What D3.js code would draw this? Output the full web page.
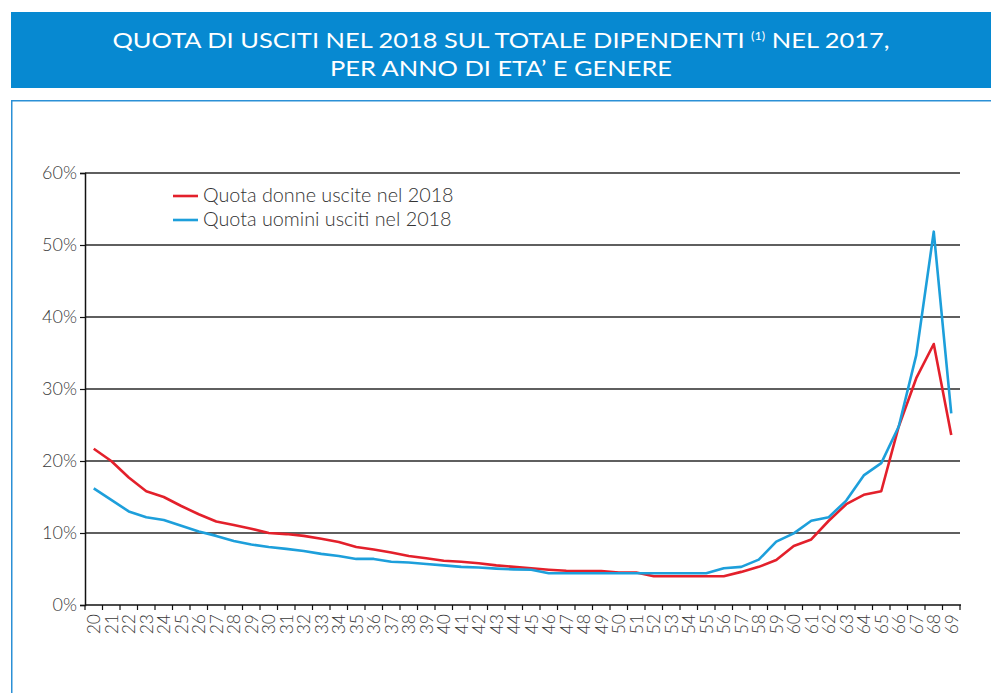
<!DOCTYPE html>
<html><head><meta charset="utf-8">
<script src="https://cdn.jsdelivr.net/npm/d3@7"></script>
<style>
html,body{margin:0;padding:0;background:#fff;}
svg{display:block;}
</style></head>
<body>
<svg id="chart" width="991" height="693"></svg>
<script>
const ages = d3.range(20, 70).map(String);
const donne = [21.7,20.0,17.7,15.8,15.0,13.75,12.6,11.6,11.1,10.6,10.0,9.85,9.6,9.2,8.75,8.05,7.7,7.3,6.8,6.5,6.15,6.0,5.8,5.5,5.3,5.1,4.9,4.75,4.7,4.7,4.5,4.5,4.0,4.0,4.0,4.0,4.0,4.6,5.3,6.25,8.2,9.1,11.7,14.0,15.3,15.8,24.8,31.5,36.25,23.6];
const uomini = [16.2,14.6,13.0,12.2,11.8,11.0,10.2,9.6,8.9,8.4,8.05,7.8,7.5,7.1,6.8,6.4,6.4,6.0,5.9,5.7,5.5,5.3,5.2,5.05,4.95,4.9,4.4,4.4,4.4,4.4,4.4,4.4,4.4,4.4,4.4,4.4,5.1,5.3,6.3,8.8,9.95,11.7,12.2,14.5,18.0,19.7,24.8,34.7,51.85,26.6];
const yTicks = [0,10,20,30,40,50,60];
const seriesNames = ["Quota donne uscite nel 2018","Quota uomini usciti nel 2018"];
const titleLines = ["QUOTA DI USCITI NEL 2018 SUL TOTALE DIPENDENTI", "PER ANNO DI ETA\u2019 E GENERE"];

const svg = d3.select("#chart");
const FONT = "Lato, 'Open Sans', sans-serif";
const RED = "#e3202b", BLUE = "#1d9fdb";

// banner
svg.append("rect").attr("x",11).attr("y",12).attr("width",980).attr("height",76).attr("fill","#0789d1");
const t1 = svg.append("text").attr("x",501).attr("y",48).attr("text-anchor","middle")
  .attr("fill","#fff").style("font-family",FONT).style("font-size","22px").style("font-weight",400)
  .attr("textLength",777).attr("lengthAdjust","spacingAndGlyphs");
t1.append("tspan").text(titleLines[0] + " ");
t1.append("tspan").text("(1)").style("font-size","11px").attr("dy",-8);
t1.append("tspan").text(" NEL 2017,").attr("dy",8);
svg.append("text").attr("x",501).attr("y",76).attr("text-anchor","middle")
  .attr("fill","#fff").style("font-family",FONT).style("font-size","22px").style("font-weight",400)
  .attr("textLength",342).attr("lengthAdjust","spacingAndGlyphs")
  .text(titleLines[1]);

// frame
svg.append("path").attr("d","M11.75,693 V100.75 H991").attr("fill","none").attr("stroke","#2b90d6").attr("stroke-width",1.5);

const x = d3.scaleBand().domain(ages).range([85,960]).paddingInner(0).paddingOuter(0);
const y = d3.scaleLinear().domain([0,60]).range([605,173]);

// grid
svg.append("g").selectAll("line").data(yTicks.filter(d=>d>0)).join("line")
  .attr("x1",85).attr("x2",960).attr("y1",d=>y(d)).attr("y2",d=>y(d))
  .attr("stroke","#2a2a2a").attr("stroke-width",1.4);

// y axis
const yAxis = svg.append("g").attr("transform","translate(85,0)")
  .call(d3.axisLeft(y).tickValues(yTicks).tickFormat(d=>d+"%").tickSize(5).tickPadding(3));
yAxis.select(".domain").attr("stroke","#111").attr("stroke-width",1.5);
yAxis.selectAll(".tick line").attr("stroke","#111").attr("stroke-width",1.2);
yAxis.selectAll("text").style("font-family",FONT).style("font-weight",300).style("font-size","18px").attr("fill","#3a3a3a");

// x axis
const xa = svg.append("g").attr("transform","translate(0,605)");
xa.append("line").attr("x1",85).attr("x2",961).attr("y1",0).attr("y2",0).attr("stroke","#111").attr("stroke-width",1.5);
const bounds = ages.map(a=>x(a)).concat([x(ages[ages.length-1])+x.bandwidth()]);
xa.selectAll("line.tk").data(bounds).join("line").attr("class","tk")
  .attr("x1",d=>d).attr("x2",d=>d).attr("y1",0).attr("y2",5).attr("stroke","#111").attr("stroke-width",1.2);
xa.selectAll("text").data(ages).join("text")
  .attr("transform",d=>`translate(${x(d)+x.bandwidth()/2},9) rotate(-90)`)
  .attr("text-anchor","end").attr("dy","0.36em")
  .style("font-family",FONT).style("font-weight",300).style("font-size","17.5px").attr("fill","#3a3a3a")
  .text(d=>d);

// lines
const line = d3.line().x((d,i)=>x(ages[i])+x.bandwidth()/2).y(d=>y(d));
svg.append("path").datum(donne).attr("d",line).attr("fill","none").attr("stroke",RED).attr("stroke-width",2.6).attr("stroke-linejoin","round");
svg.append("path").datum(uomini).attr("d",line).attr("fill","none").attr("stroke",BLUE).attr("stroke-width",2.6).attr("stroke-linejoin","round");

// legend
const leg = svg.append("g");
[[RED,seriesNames[0],196],[BLUE,seriesNames[1],220]].forEach(([c,n,yy])=>{
  leg.append("line").attr("x1",173).attr("x2",198).attr("y1",yy).attr("y2",yy).attr("stroke",c).attr("stroke-width",2.6);
  leg.append("text").attr("x",203).attr("y",yy+6).text(n)
    .style("font-family",FONT).style("font-weight",300).style("font-size","19.8px").attr("fill","#333");
});
</script>
</body></html>
